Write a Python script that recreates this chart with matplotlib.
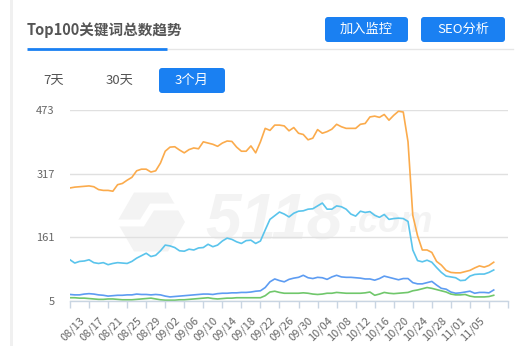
import numpy as np
import matplotlib
matplotlib.use("Agg")
import matplotlib.pyplot as plt
from matplotlib.patches import FancyBboxPatch, RegularPolygon, Rectangle

plt.rcParams['font.family'] = ['Noto Sans CJK SC', 'DejaVu Sans']

# x axis: one point per day, 08/11 .. 11/08
tick_labels = ['08/13', '08/17', '08/21', '08/25', '08/29', '09/02', '09/06', '09/10',
               '09/14', '09/18', '09/22', '09/26', '09/30', '10/04', '10/08', '10/12',
               '10/16', '10/20', '10/24', '10/28', '11/01', '11/05']
y_ticks = [5, 161, 317, 473]

orange = [282, 284, 285, 286, 287, 285, 278, 276, 276, 274,
          290, 293, 301, 308, 324, 328, 328, 321, 324, 343,
          372, 382, 383, 375, 368, 376, 380, 378, 395, 392,
          389, 384, 392, 397, 396, 382, 372, 372, 385, 368,
          395, 428, 423, 436, 436, 434, 422, 430, 416, 413,
          400, 404, 425, 416, 420, 426, 438, 432, 428, 428,
          428, 438, 440, 456, 458, 455, 462, 448, 460, 470,
          468, 395, 215, 165, 130, 130, 124, 102, 93, 80,
          75, 74, 74, 77, 80, 86, 91, 88, 92, 100]
cyan = [106, 98, 102, 103, 106, 99, 97, 99, 94, 97,
        99, 98, 97, 102, 110, 116, 122, 114, 117, 128,
        142, 140, 136, 128, 127, 132, 130, 135, 136, 144,
        138, 142, 152, 159, 156, 150, 146, 153, 154, 146,
        152, 179, 205, 214, 223, 218, 211, 220, 225, 226,
        230, 231, 238, 245, 230, 230, 238, 236, 230, 218,
        213, 225, 222, 224, 215, 210, 217, 205, 207, 208,
        207, 200, 130, 104, 101, 105, 100, 87, 75, 66,
        64, 62, 55, 56, 66, 70, 71, 71, 75, 81]
blue = [21, 20, 20, 22, 23, 22, 20, 19, 17, 18,
        19, 19, 20, 20, 22, 21, 21, 20, 21, 20,
        17, 15, 16, 17, 18, 19, 20, 21, 22, 22,
        21, 23, 24, 24, 25, 25, 26, 26, 27, 29,
        30, 38, 52, 59, 55, 52, 58, 61, 63, 68,
        62, 60, 63, 62, 58, 64, 68, 64, 63, 63,
        62, 61, 59, 59, 56, 60, 66, 63, 60, 57,
        60, 60, 50, 47, 47, 50, 53, 44, 36, 34,
        27, 24, 25, 27, 29, 24, 26, 26, 25, 32]
green = [13, 13, 12, 12, 11, 10, 9, 9, 10, 10,
         9, 8, 8, 8, 9, 10, 11, 12, 10, 8,
         7, 7, 7, 8, 8, 9, 10, 11, 12, 13,
         11, 10, 11, 12, 12, 13, 13, 13, 13, 13,
         13, 18, 27, 29, 26, 24, 24, 24, 24, 25,
         24, 22, 21, 22, 24, 24, 26, 25, 24, 24,
         24, 24, 25, 27, 19, 22, 26, 24, 23, 24,
         25, 26, 30, 32, 35, 38, 36, 33, 30, 27,
         22, 20, 20, 21, 17, 15, 15, 15, 16, 19]

BLUE_BTN = '#1a80f2'
TEXT = '#555555'
MARK = '#f3f3f3'

fig = plt.figure(figsize=(5.3, 3.46), dpi=100)

# page furniture drawn in pixel coordinates
bg = fig.add_axes([0, 0, 1, 1])
bg.set_xlim(0, 530)
bg.set_ylim(346, 0)
bg.axis('off')

bg.add_patch(Rectangle((10, 0), 3, 346, color='#f0f0f0', lw=0))
bg.text(27, 30, 'Top100关键词总数趋势', fontsize=10.5, fontweight='bold',
        color=TEXT, va='center', ha='left')
bg.plot([167, 513], [49, 49], color='#e6e6e6', lw=1)
bg.plot([27, 167], [48.7, 48.7], color=BLUE_BTN, lw=2, solid_capstyle='butt')

for x0, x1, label in [(325, 408, '加入监控'), (421, 505, 'SEO分析')]:
    bg.add_patch(FancyBboxPatch((x0, 17), x1 - x0, 25, boxstyle='round,pad=0,rounding_size=3',
                                fc=BLUE_BTN, ec='none'))
    bg.text((x0 + x1) / 2, 29.5, label, color='white', fontsize=9.5, ha='center', va='center')

bg.text(54, 80, '7天', color=TEXT, fontsize=9.5, ha='center', va='center')
bg.text(120, 80, '30天', color=TEXT, fontsize=9.5, ha='center', va='center')
bg.add_patch(FancyBboxPatch((159, 68), 66, 25, boxstyle='round,pad=0,rounding_size=3',
                            fc=BLUE_BTN, ec='none'))
bg.text(192, 80.5, '3个月', color='white', fontsize=9.5, ha='center', va='center')

# faint watermark
bg.add_patch(RegularPolygon((151, 222), 6, radius=34, orientation=np.pi / 6,
                            fc=MARK, ec='none'))
bg.plot([188, 152, 142, 112], [207, 207, 223, 223], color='white', lw=5,
        solid_joinstyle='miter')
bg.text(205, 223, '5118', fontsize=46, fontstyle='italic', fontweight='bold',
        family='Liberation Sans', color=MARK, ha='left', va='center')
bg.text(348, 222, '.com', fontsize=26, fontstyle='italic', fontweight='bold',
        family='Liberation Sans', color=MARK, ha='left', va='center')

# chart
ax = fig.add_axes([70 / 530, 45 / 346, 438 / 530, 191 / 346])
ax.patch.set_alpha(0)
days = np.arange(len(orange))
ax.plot(days, orange, color='#fbab4c', lw=1.2)
ax.plot(days, cyan, color='#5ac4ec', lw=1.2)
ax.plot(days, blue, color='#5d9cf2', lw=1.2)
ax.plot(days, green, color='#70c76b', lw=1.2)

ax.set_xlim(0, 92)
ax.set_ylim(5, 473)
ax.set_yticks(y_ticks)
ax.set_yticklabels([str(v) for v in y_ticks])
ax.grid(axis='y', color='#e0e0e0', lw=1)
ax.set_axisbelow(True)
for side in ['top', 'right', 'left']:
    ax.spines[side].set_visible(False)
ax.spines['bottom'].set_color('#c9d5e2')
ax.spines['bottom'].set_linewidth(1)

label_pos = np.arange(2, 2 + 4 * len(tick_labels), 4)
ax.set_xticks(label_pos)
ax.set_xticklabels(tick_labels, rotation=45, ha='right', rotation_mode='anchor')
ax.set_xticks(np.arange(0, 93, 4), minor=True)
ax.tick_params(axis='x', which='major', length=0, pad=10, labelsize=8, labelcolor='#666666')
ax.tick_params(axis='x', which='minor', length=5, color='#c9d5e2', width=1)
ax.tick_params(axis='y', length=0, pad=11, labelsize=8, labelcolor='#666666')

fig.savefig('out.png', dpi=100)
